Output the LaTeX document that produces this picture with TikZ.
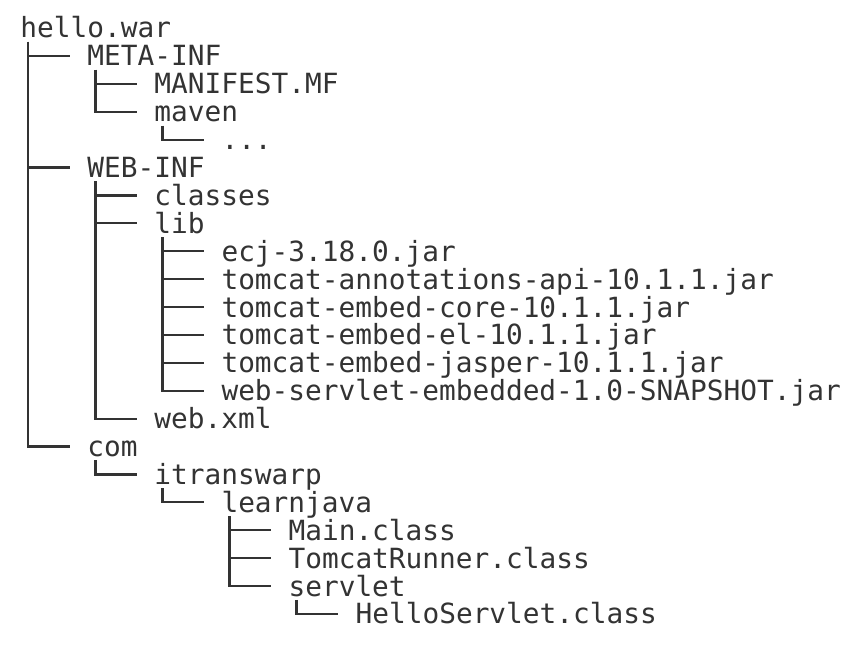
\documentclass[tikz,border=0pt]{standalone}
\usepackage{fontspec}
\setmonofont{DejaVu Sans Mono}
\definecolor{treeink}{HTML}{333333}
\tikzset{
  entry/.style={anchor=west, inner sep=0pt, text height=10pt, text depth=0pt,
    font=\ttfamily\fontsize{13.9}{16}\selectfont, text=treeink},
  branch/.style={draw=treeink, line width=1.1pt}
}
\begin{document}
\begin{tikzpicture}[x=8.38pt, y=-13.95pt]
  \useasboundingbox[fill=white] (-10pt,14pt) rectangle (424pt,-310pt);
  % entries, one per row
  \node[entry] (war)      at (0,0)   {hello.war};
  \node[entry] (meta)     at (4,1)   {META-INF};
  \node[entry] (manifest) at (8,2)   {MANIFEST.MF};
  \node[entry] (maven)    at (8,3)   {maven};
  \node[entry] (mvndots)  at (12,4)  {...};
  \node[entry] (webinf)   at (4,5)   {WEB-INF};
  \node[entry] (classes)  at (8,6)   {classes};
  \node[entry] (lib)      at (8,7)   {lib};
  \node[entry] (ecj)      at (12,8)  {ecj-3.18.0.jar};
  \node[entry] (annot)    at (12,9)  {tomcat-annotations-api-10.1.1.jar};
  \node[entry] (core)     at (12,10) {tomcat-embed-core-10.1.1.jar};
  \node[entry] (el)       at (12,11) {tomcat-embed-el-10.1.1.jar};
  \node[entry] (jasper)   at (12,12) {tomcat-embed-jasper-10.1.1.jar};
  \node[entry] (embedded) at (12,13) {web-servlet-embedded-1.0-SNAPSHOT.jar};
  \node[entry] (webxml)   at (8,14)  {web.xml};
  \node[entry] (com)      at (4,15)  {com};
  \node[entry] (itw)      at (8,16)  {itranswarp};
  \node[entry] (lj)       at (12,17) {learnjava};
  \node[entry] (main)     at (16,18) {Main.class};
  \node[entry] (runner)   at (16,19) {TomcatRunner.class};
  \node[entry] (servlet)  at (16,20) {servlet};
  \node[entry] (hello)    at (20,21) {HelloServlet.class};
  % tree lines, parent to child
  \foreach \p/\c in {war/meta, war/webinf, war/com, meta/manifest, meta/maven,
      maven/mvndots, webinf/classes, webinf/lib, webinf/webxml, lib/ecj,
      lib/annot, lib/core, lib/el, lib/jasper, lib/embedded, com/itw, itw/lj,
      lj/main, lj/runner, lj/servlet, servlet/hello}
    \draw[branch] ([shift={(0.5,0.5)}]\p.west) |- ([xshift=-8.38pt]\c.west);
\end{tikzpicture}
\end{document}
